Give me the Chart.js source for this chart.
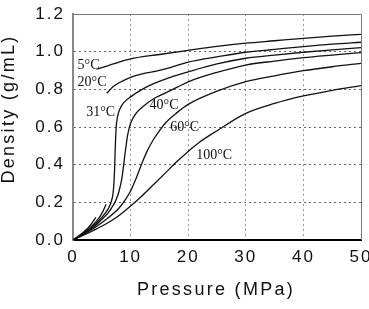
<!DOCTYPE html>
<html>
<head>
<meta charset="utf-8">
<script src="https://cdn.jsdelivr.net/npm/chart.js@4/dist/chart.umd.min.js"></script>
<style>
  body { margin: 0; background: #fff; }
</style>
</head>
<body>
<canvas id="densityChart" width="369" height="309"></canvas>
<script>
// CO2 density isotherms
const temperatures = ['5°C', '20°C', '31°C', '40°C', '60°C', '100°C'];

// 5 and 20 have a gas branch and a liquid branch (null breaks the line)
const pressure5 = [0, 1, 2, 3, 3.97, 4.05, 4.1, 6, 8, 10, 15, 20, 25, 30, 35, 40, 45, 50];
const density5 = [0, 0.022, 0.047, 0.078, 0.12, null, 0.907, 0.925, 0.945, 0.962, 0.985, 1.007, 1.028, 1.045, 1.058, 1.071, 1.082, 1.092];

const pressure20 = [0, 1, 2, 3, 4, 5, 5.75, 5.8, 5.85, 6.5, 7, 8, 10, 12, 14.5, 17, 20, 25, 30, 35, 40, 45, 50];
const density20 = [0, 0.02, 0.042, 0.067, 0.098, 0.14, 0.19, null, 0.779, 0.80, 0.815, 0.835, 0.864, 0.882, 0.897, 0.917, 0.944, 0.972, 0.997, 1.012, 1.027, 1.04, 1.05];

const pressure31 = [0, 1, 2, 3, 4, 5, 6, 6.6, 7.0, 7.2, 7.35, 7.5, 7.7, 8.2, 9, 10, 12, 14, 17, 20, 25, 30, 35, 40, 45, 50];
const density31 = [0, 0.018, 0.038, 0.06, 0.088, 0.12, 0.16, 0.2, 0.26, 0.36, 0.5, 0.6, 0.65, 0.70, 0.735, 0.76, 0.80, 0.83, 0.865, 0.893, 0.935, 0.965, 0.982, 0.997, 1.01, 1.021];

const pressure40 = [0, 1, 2, 3, 4, 5, 6, 7, 7.5, 8, 8.5, 9, 9.5, 10, 11, 12, 14, 16, 18, 20, 25, 30, 35, 40, 45, 50];
const density40 = [0, 0.017, 0.036, 0.057, 0.08, 0.11, 0.14, 0.185, 0.215, 0.26, 0.33, 0.45, 0.56, 0.62, 0.675, 0.705, 0.75, 0.78, 0.81, 0.84, 0.89, 0.929, 0.95, 0.968, 0.982, 0.995];

const pressure60 = [0, 2, 4, 6, 8, 9, 10, 11, 12, 13, 14, 15, 16, 18, 20, 25, 30, 35, 40, 45, 50];
const density60 = [0, 0.033, 0.07, 0.115, 0.17, 0.21, 0.26, 0.33, 0.41, 0.48, 0.535, 0.58, 0.62, 0.675, 0.72, 0.79, 0.841, 0.872, 0.899, 0.92, 0.938];

const pressure100 = [0, 2, 4, 6, 8, 10, 12, 14, 16, 18, 20, 22, 25, 30, 35, 40, 45, 50];
const density100 = [0, 0.028, 0.058, 0.09, 0.13, 0.18, 0.235, 0.295, 0.355, 0.415, 0.47, 0.52, 0.58, 0.672, 0.725, 0.765, 0.795, 0.82];

const xTicks = [0, 10, 20, 30, 40, 50];
const yTicks = [0, 0.2, 0.4, 0.6, 0.8, 1.0, 1.2];

// where the temperature labels sit, in data units
const labelPressure = [2.7, 3.3, 4.8, 15.8, 19.4, 24.5];
const labelDensity = [0.929, 0.839, 0.677, 0.717, 0.60, 0.451];

const pressures = [pressure5, pressure20, pressure31, pressure40, pressure60, pressure100];
const densities = [density5, density20, density31, density40, density60, density100];

const toPoints = (xs, ys) => xs.map((x, i) => ({ x: x, y: ys[i] }));

const chartDecor = {
    id: 'chartDecor',
    beforeDraw(chart) {
        chart.ctx.letterSpacing = '2px';
    },
    beforeDatasetsDraw(chart) {
        const { ctx, chartArea: a } = chart;
        ctx.letterSpacing = '0px';
        ctx.save();
        ctx.strokeStyle = '#777';
        ctx.lineWidth = 1;
        ctx.beginPath();
        ctx.moveTo(a.left, a.top + 0.5);
        ctx.lineTo(a.right + 0.5, a.top + 0.5);
        ctx.lineTo(a.right + 0.5, a.bottom);
        ctx.stroke();
        ctx.restore();
    },
    afterDatasetsDraw(chart) {
        const { ctx, scales } = chart;
        ctx.save();
        ctx.font = '14px "Liberation Serif", "Times New Roman", serif';
        ctx.fillStyle = '#111';
        ctx.textAlign = 'center';
        ctx.textBaseline = 'middle';
        temperatures.forEach((t, i) => {
            ctx.fillText(t, scales.x.getPixelForValue(labelPressure[i]), scales.y.getPixelForValue(labelDensity[i]));
        });
        ctx.restore();
    },
    afterDraw(chart) {
        const ctx = chart.ctx;
        ctx.save();
        ctx.letterSpacing = '2.3px';
        ctx.font = '18px "Liberation Sans", Arial, sans-serif';
        ctx.fillStyle = '#111';
        ctx.textAlign = 'center';
        ctx.textBaseline = 'middle';
        ctx.fillText('Pressure (MPa)', 216, 290);
        ctx.translate(9, 109);
        ctx.rotate(-Math.PI / 2);
        ctx.fillText('Density (g/mL)', 0, 0);
        ctx.restore();
        ctx.letterSpacing = '0px';
    }
};

const edgeHidden = (c, n) => (c.index === 0 || c.index === n) ? 'rgba(0,0,0,0)' : undefined;

// fixed axis sizes, no extra room for overhanging tick labels
const fixBox = (size) => (s) => {
    if (s.isHorizontal()) s.height = size; else s.width = size;
    s.paddingLeft = 0;
    s.paddingRight = 0;
    s.paddingTop = 0;
    s.paddingBottom = 0;
};

new Chart(document.getElementById('densityChart'), {
    type: 'line',
    data: {
        datasets: temperatures.map((t, i) => ({
            label: t,
            data: toPoints(pressures[i], densities[i]),
            borderColor: '#111',
            borderWidth: 1.3,
            pointRadius: 0,
            cubicInterpolationMode: 'monotone',
            spanGaps: false,
            fill: false,
        })),
    },
    options: {
        responsive: false,
        animation: false,
        layout: {
            padding: { top: 14, right: 8, left: 0, bottom: 0 },
        },
        plugins: {
            legend: { display: false },
            tooltip: { enabled: false },
        },
        scales: {
            x: {
                type: 'linear',
                min: 0,
                max: 50,
                afterFit: fixBox(69),
                afterBuildTicks: (s) => { s.ticks = xTicks.map(v => ({ value: v })); },
                ticks: {
                    padding: 7,
                    color: '#111',
                    font: { family: '"Liberation Sans", Arial, sans-serif', size: 17 },
                    maxRotation: 0,
                },
                grid: {
                    drawTicks: false,
                    color: (c) => edgeHidden(c, xTicks.length - 1) || '#999',
                    lineWidth: 1,
                },
                border: { color: '#000', width: 2, dash: [2, 3] },
            },
            y: {
                min: 0,
                max: 1.2,
                afterFit: fixBox(73),
                afterBuildTicks: (s) => { s.ticks = yTicks.map(v => ({ value: v })); },
                ticks: {
                    padding: 8,
                    color: '#111',
                    font: { family: '"Liberation Sans", Arial, sans-serif', size: 17 },
                    callback: (v) => Number(v).toFixed(1),
                },
                grid: {
                    drawTicks: false,
                    color: (c) => edgeHidden(c, yTicks.length - 1) || '#666',
                    lineWidth: 1,
                },
                border: { color: '#888', width: 2, dash: [2, 3] },
            },
        },
    },
    plugins: [chartDecor],
});
</script>
</body>
</html>
